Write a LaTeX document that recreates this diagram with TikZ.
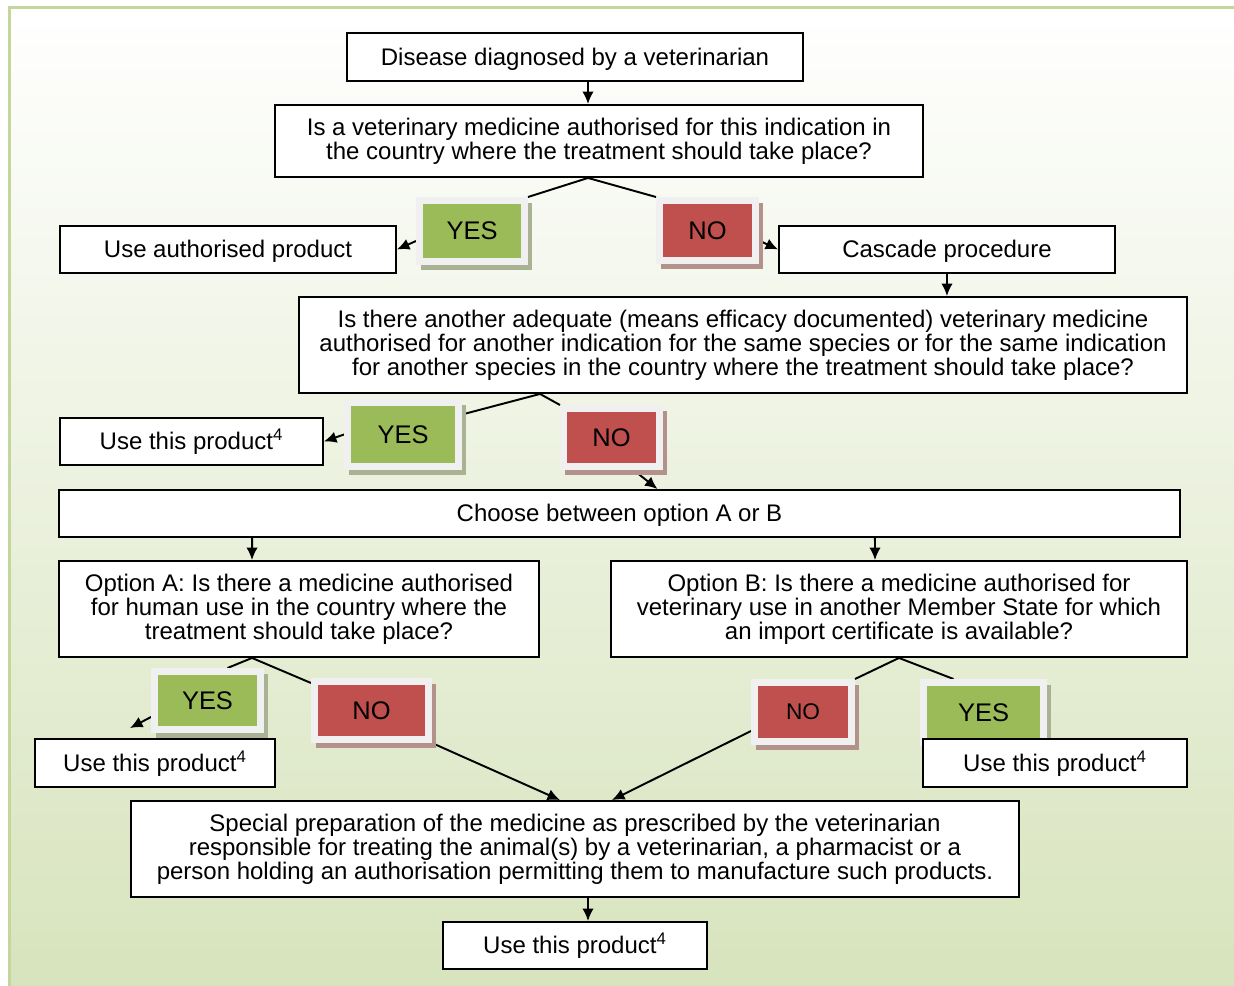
\documentclass[tikz,border=0pt]{standalone}
\usepackage{fontspec}
\setmainfont{Liberation Sans}
\usetikzlibrary{arrows.meta,shadows,backgrounds}

\definecolor{framegreen}{HTML}{C3D69B}
\definecolor{bottomgreen}{HTML}{D7E3BC}
\definecolor{yesgreen}{HTML}{9BBB59}
\definecolor{nored}{HTML}{C0504D}
\definecolor{answerrim}{HTML}{F0F0F0}
\definecolor{yesshadow}{HTML}{A9B393}
\definecolor{noshadow}{HTML}{B4928C}

\begin{document}
\begin{tikzpicture}[x=0.02cm, y=-0.02cm,
        every node/.style={font=\fontsize{13.66}{13.66}\selectfont},
        step box/.style={draw, line width=1.1pt, fill=white, inner sep=0pt, align=center},
        one line/.style={text height=0.434cm, text depth=0.102cm},
        answer/.style={draw=answerrim, line width=0.14cm, inner sep=0pt, font=\fontsize{14.5}{14.5}\selectfont},
        yes answer/.style={answer, fill=yesgreen, drop shadow={shadow xshift=0.09cm, shadow yshift=-0.11cm, fill=yesshadow, draw=yesshadow, line width=0.14cm, opacity=1}},
        no answer/.style={answer, fill=nored, drop shadow={shadow xshift=0.09cm, shadow yshift=-0.11cm, fill=noshadow, draw=noshadow, line width=0.14cm, opacity=1}},
        >={Latex[length=0.25cm,width=0.23cm]}, line width=1.1pt]

        \useasboundingbox (0,0) rectangle (1234,986);

        \node[step box, one line, minimum width=9.12cm, minimum height=0.96cm] (diag) at (575,57) {Disease diagnosed by a veterinarian};
        \node[step box, minimum width=12.96cm, minimum height=1.44cm] (q1) at (599,141) {Is a veterinary medicine authorised for this indication in\\the country where the treatment should take place?};

        \node[yes answer, minimum width=2.1cm, minimum height=1.22cm] (yes1) at (472,231) {YES};
        \node[no answer, minimum width=1.92cm, minimum height=1.2cm] (no1) at (707.5,230.5) {NO};
        \node[step box, one line, minimum width=6.72cm, minimum height=0.94cm] (useauth) at (228,249.5) {Use authorised product};
        \node[step box, one line, minimum width=6.72cm, minimum height=0.94cm] (cascade) at (947,249.5) {Cascade procedure};

        \node[step box, minimum width=17.76cm, minimum height=1.92cm] (q2) at (743,345) {Is there another adequate (means efficacy documented) veterinary medicine\\authorised for another indication for the same species or for the same indication\\for another species in the country where the treatment should take place?};

        \node[yes answer, minimum width=2.22cm, minimum height=1.28cm] (yes2) at (403,434.5) {YES};
        \node[no answer, minimum width=1.92cm, minimum height=1.16cm] (no2) at (611.5,437.5) {NO};
        \node[step box, one line, minimum width=5.26cm, minimum height=0.94cm] (useprod1) at (191.5,441.5) {Use this product\textsuperscript{4}};

        \node[step box, one line, minimum width=22.42cm, minimum height=0.94cm] (choose) at (619.5,513.5) {Choose between option A or B};

        \node[step box, minimum width=9.6cm, minimum height=1.92cm] (optA) at (299,609) {Option A: Is there a medicine authorised\\for human use in the country where the\\treatment should take place?};
        \node[step box, minimum width=11.52cm, minimum height=1.92cm] (optB) at (899,609) {Option B: Is there a medicine authorised for\\veterinary use in another Member State for which\\an import certificate is available?};

        \node[yes answer, minimum width=2.12cm, minimum height=1.16cm] (yes3) at (207.5,700.5) {YES};
        \node[no answer, minimum width=2.28cm, minimum height=1.16cm] (no3) at (371.5,710.5) {NO};
        \node[no answer, minimum width=1.94cm, minimum height=1.18cm, font=\fontsize{12.9}{12.9}\selectfont] (no4) at (803,712) {NO};
        \node[yes answer, minimum width=2.4cm, minimum height=1.2cm] (yes4) at (983.5,712.5) {YES};
        \node[step box, one line, minimum width=4.8cm, minimum height=0.96cm] (useprod2) at (155,763) {Use this product\textsuperscript{4}};
        \node[step box, one line, minimum width=5.28cm, minimum height=0.96cm] (useprod3) at (1055,763) {Use this product\textsuperscript{4}};

        \node[step box, minimum width=17.76cm, minimum height=1.92cm] (special) at (575,849) {Special preparation of the medicine as prescribed by the veterinarian\\responsible for treating the animal(s) by a veterinarian, a pharmacist or a\\person holding an authorisation permitting them to manufacture such products.};
        \node[step box, one line, minimum width=5.28cm, minimum height=0.94cm] (useprod4) at (575,945.5) {Use this product\textsuperscript{4}};

        \begin{scope}[on background layer={line width=1.1pt}]
        \draw[framegreen, line width=0.06cm, top color=white, bottom color=bottomgreen] (9.5,7.5) rectangle (1270,1000);

        \draw[->] ([xshift=0.26cm]diag.south) -- ([xshift=-0.22cm]q1.north);
        \draw ([xshift=-0.22cm]q1.south) -- (yes1.north east);
        \draw ([xshift=-0.22cm]q1.south) -- (no1.north west);
        \draw[->] ([yshift=-0.2cm]yes1.west) -- (useauth.east);
        \draw[->] ([yshift=-0.2cm]no1.east) -- (cascade.west);
        \draw[->] (cascade.south) -- ([xshift=4.08cm]q2.north);

        \draw ([xshift=-4.06cm]q2.south) -- ([yshift=0.4cm]yes2.east);
        \draw ([xshift=-4.06cm]q2.south) -- (no2.north west);
        \draw[->] (yes2.west) -- (useprod1.east);
        \draw[->] ([xshift=0.44cm]no2.south) -- ([xshift=0.76cm]choose.north);

        \draw[->] ([xshift=-7.35cm]choose.south) -- ([xshift=-0.94cm]optA.north);
        \draw[->] ([xshift=5.11cm]choose.south) -- ([xshift=-0.48cm]optB.north);

        \draw ([xshift=-0.94cm]optA.south) -- ([xshift=0.4cm]yes3.north);
        \draw ([xshift=-0.94cm]optA.south) -- ([yshift=-0.1cm]no3.north west);
        \draw[->] ([yshift=-0.33cm]yes3.west) -- ([xshift=-0.5cm,yshift=0.2cm]useprod2.north);
        \draw[->] (no3.south east) -- ([xshift=-0.3cm]special.north);

        \draw (optB.south) -- (no4.north east);
        \draw (optB.south) -- ([xshift=-0.6cm]yes4.north);
        \draw[->] ([yshift=-0.38cm]no4.west) -- ([xshift=0.74cm]special.north);

        \draw[->] ([xshift=0.26cm]special.south) -- ([xshift=0.26cm]useprod4.north);
        \end{scope}

    \end{tikzpicture}
\end{document}
